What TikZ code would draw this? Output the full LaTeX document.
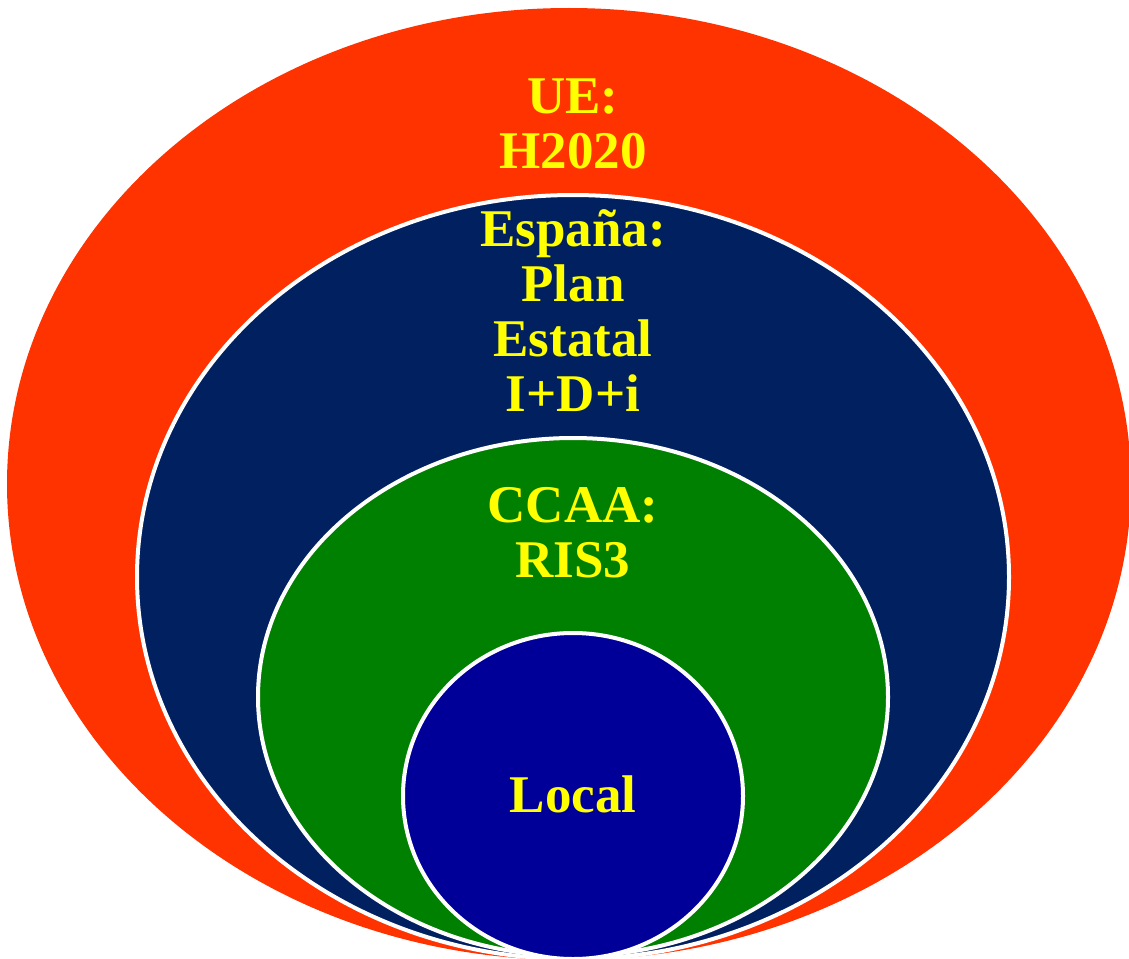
\documentclass[tikz,border=0pt]{standalone}
\usepackage{fontspec}
\setmainfont{Liberation Serif}
\definecolor{ueRed}{HTML}{FF3300}
\definecolor{esNavy}{HTML}{002060}
\definecolor{ccGreen}{HTML}{008000}
\definecolor{locBlue}{HTML}{000099}
\definecolor{lblYellow}{HTML}{FFFF00}
\tikzset{
	ring/.style={draw=white, line width=4pt},
	lbl/.style={font=\fontsize{53}{55}\selectfont\bfseries, text=lblYellow, align=center, inner sep=0pt, anchor=north}
}

\begin{document}
\begin{tikzpicture}[x=1pt,y=-1pt]
	\useasboundingbox (0,0) rectangle (1129,958);
	% nested levels
	\fill[ueRed] (569,484) ellipse [x radius=562, y radius=476];
	\filldraw[ring, fill=esNavy] (573,577) ellipse [x radius=436, y radius=382];
	\filldraw[ring, fill=ccGreen] (573,697) ellipse [x radius=315, y radius=259];
	\filldraw[ring, fill=locBlue] (573,796) ellipse [x radius=170, y radius=163];
	% labels
	\node[lbl] (ue) at (573,79) {UE:\\H2020};
	\node[lbl] (es) at (573,209) {España:\\Plan\\Estatal\\I+D+i};
	\node[lbl] (ccaa) at (573,487) {CCAA:\\RIS3};
	\node[lbl] (loc) at (573,776) {Local};
	
\end{tikzpicture}
\end{document}
